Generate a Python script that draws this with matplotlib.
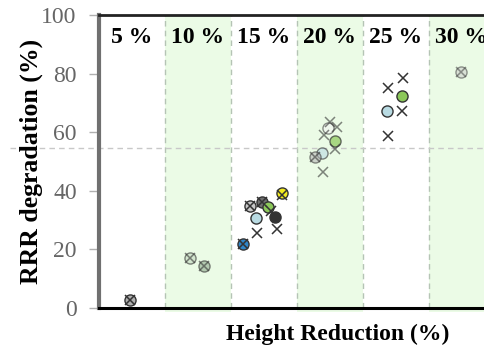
import matplotlib
matplotlib.use("Agg")
import matplotlib.pyplot as plt

# ---- data ----
band_centers = [5, 10, 15, 20, 25, 30]
band_labels = ["5 %", "10 %", "15 %", "20 %", "25 %", "30 %"]
band_shaded = [False, True, False, True, False, True]

circle_x = [4.85, 9.4, 10.45, 13.4, 13.94, 14.85, 15.3, 14.4, 15.8, 16.4,
            19.85, 20.4, 19.4, 18.9, 25.45, 24.3, 29.9]
circle_y = [2.7, 17.1, 14.3, 21.8, 34.8, 36.2, 34.5, 30.7, 31.1, 39.2,
            61.4, 57.0, 52.9, 51.5, 72.4, 67.2, 80.5]
circle_colors = ["#b0b0b0", "#c4d8c0", "#8fa88c", "#2f86c8", "#c8c8c8", "#707070",
                 "#8cc85a", "#b9dbe3", "#333333", "#f2ea1e",
                 "#f4f4f4", "#8cc85a", "#b9dbe3", "#b0b0b0", "#8cc85a", "#b9dbe3", "#c8c8c8"]
circle_alpha = [1, 0.6, 0.6, 1, 1, 1, 1, 1, 1, 1,
                0.55, 0.7, 0.6, 0.55, 1, 1, 0.5]

cross_x = [4.85, 9.4, 10.45, 13.4, 13.94, 14.85, 15.5, 14.5, 16.0, 16.4,
           20.0, 20.5, 19.55, 20.4, 18.9, 19.5,
           25.5, 24.4, 25.45, 24.4, 29.9]
cross_y = [2.7, 17.1, 14.3, 21.8, 34.8, 36.2, 33.0, 25.6, 27.0, 38.5,
           63.5, 61.8, 59.0, 54.3, 51.5, 46.4,
           78.5, 75.1, 67.2, 58.7, 80.5]
cross_alpha = [1, 0.6, 0.6, 1, 1, 1, 1, 1, 1, 1,
               0.6, 0.6, 0.6, 0.6, 0.6, 0.6,
               1, 1, 1, 1, 0.5]

ref_level = 54.6
yticks = [0, 20, 40, 60, 80, 100]

serif = ["Liberation Serif", "DejaVu Serif"]

fig = plt.figure(figsize=(4.85, 3.47), dpi=100)
ax = fig.add_axes([0.204, 0.1124, 0.8165, 0.8444])
ax.set_xlim(2.5, 32.5)
ax.set_ylim(0, 100)

# bands
for c, lab, sh in zip(band_centers, band_labels, band_shaded):
    if sh:
        ax.axvspan(c - 2.5, c + 2.5, ymin=-0.012, ymax=1, color="#ebfbe6", zorder=0,
                   lw=0, clip_on=False)
    ax.text(c, 92.3, lab, ha="center", va="center", fontsize=17, fontweight="bold",
            family=serif, color="black", zorder=5)
for c in band_centers[:-1]:
    ax.axvline(c + 2.5, color="#b5c4b5", lw=1, ls=(0, (4, 3)), zorder=1)

ax.axhline(ref_level, xmin=-0.225, xmax=1, color="#c8c8c8", lw=1,
           ls=(0, (4, 3)), clip_on=False, zorder=1)

# markers
for x, y, col, a in zip(circle_x, circle_y, circle_colors, circle_alpha):
    ax.plot([x], [y], marker="o", ms=8, mfc=col, mec="#333333", mew=1,
            alpha=a, ls="none", zorder=3)
for x, y, a in zip(cross_x, cross_y, cross_alpha):
    ax.plot([x], [y], marker="x", ms=7, mec="#333333", mew=1.1,
            alpha=a, ls="none", zorder=4)

# spines
ax.spines["right"].set_visible(False)
ax.spines["top"].set_color("#222222")
ax.spines["top"].set_linewidth(2)
ax.spines["bottom"].set_color("black")
ax.spines["bottom"].set_linewidth(2.2)
ax.spines["left"].set_color("#707070")
ax.spines["left"].set_linewidth(3)

ax.set_xticks([])
ax.set_yticks(yticks)
ax.tick_params(axis="y", direction="out", length=7, width=1, color="#b0b0b0",
               labelcolor="#666666", pad=9)
for t in ax.get_yticklabels():
    t.set_family(serif)
    t.set_fontsize(17)

fig.text(0.064, 0.536, "RRR degradation (%)", rotation=90, ha="center", va="center",
         fontsize=18.5, fontweight="bold", family=serif)
fig.text(0.697, 0.035, "Height Reduction (%)", ha="center", va="center",
         fontsize=17, fontweight="bold", family=serif)

fig.savefig("out.png", dpi=100)
